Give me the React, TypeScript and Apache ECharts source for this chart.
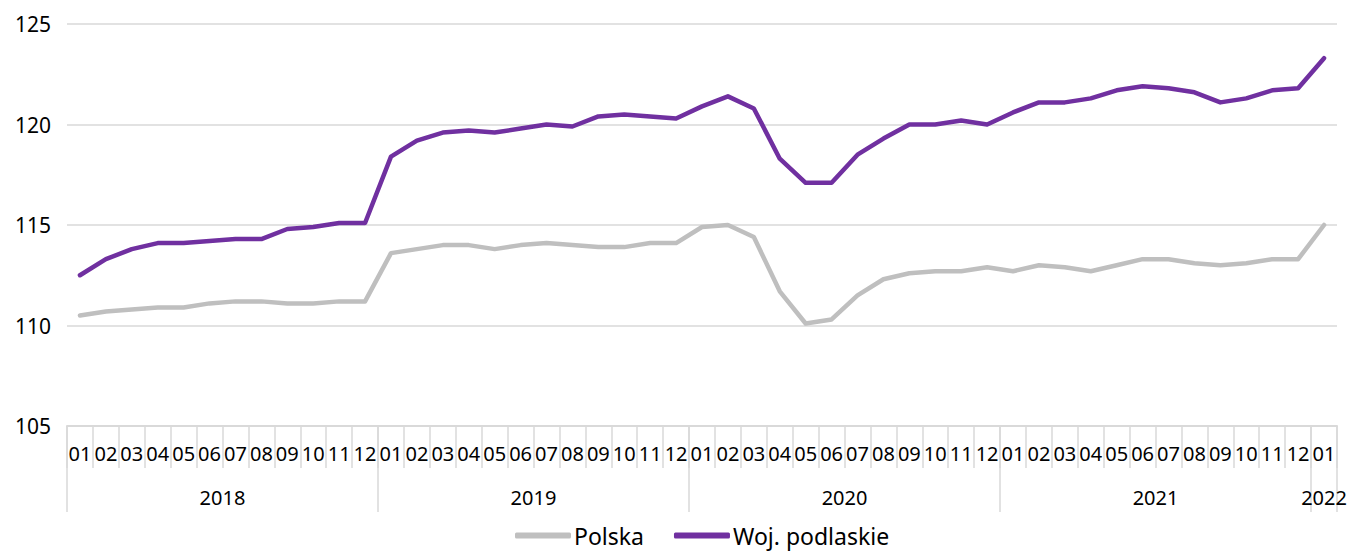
import React, { useEffect, useRef } from "react";
import * as echarts from "echarts";

const years = ["2018", "2019", "2020", "2021"];
const monthCodes = ["01", "02", "03", "04", "05", "06", "07", "08", "09", "10", "11", "12"];
const lastCategory = "2022-01";

const categories: string[] = [
  ...years.flatMap((y) => monthCodes.map((m) => `${y}-${m}`)),
  lastCategory,
];

const polska = [
  110.5, 110.7, 110.8, 110.9, 110.9, 111.1, 111.2, 111.2, 111.1, 111.1, 111.2, 111.2,
  113.6, 113.8, 114.0, 114.0, 113.8, 114.0, 114.1, 114.0, 113.9, 113.9, 114.1, 114.1,
  114.9, 115.0, 114.4, 111.7, 110.1, 110.3, 111.5, 112.3, 112.6, 112.7, 112.7, 112.9,
  112.7, 113.0, 112.9, 112.7, 113.0, 113.3, 113.3, 113.1, 113.0, 113.1, 113.3, 113.3,
  115.0,
];

const podlaskie = [
  112.5, 113.3, 113.8, 114.1, 114.1, 114.2, 114.3, 114.3, 114.8, 114.9, 115.1, 115.1,
  118.4, 119.2, 119.6, 119.7, 119.6, 119.8, 120.0, 119.9, 120.4, 120.5, 120.4, 120.3,
  120.9, 121.4, 120.8, 118.3, 117.1, 117.1, 118.5, 119.3, 120.0, 120.0, 120.2, 120.0,
  120.6, 121.1, 121.1, 121.3, 121.7, 121.9, 121.8, 121.6, 121.1, 121.3, 121.7, 121.8,
  123.3,
];

const yTicks = { min: 105, max: 125, interval: 5 };
const seriesNames = ["Polska", "Woj. podlaskie"];

const FONT = "Noto Sans";
const GRID = "#d9d9d9";

export default function App() {
  const ref = useRef<HTMLDivElement>(null);

  useEffect(() => {
    if (!ref.current) return;
    const chart = echarts.init(ref.current, null, { renderer: "svg" });
    const yearLabelIdx = (i: number) => i === categories.length - 1 || i % 12 === 6;
    chart.setOption({
      animation: false,
      textStyle: { fontFamily: FONT },
      grid: { left: 67, right: 13, top: 24, bottom: 125 },
      legend: {
        top: 519,
        left: 510,
        itemWidth: 56,
        itemHeight: 6,
        itemGap: 30,
        icon: "roundRect",
        textStyle: { fontSize: 23, color: "#000", fontFamily: FONT, padding: [0, 0, 0, -2] },
        data: seriesNames,
      },
      xAxis: [
        {
          type: "category",
          data: categories,
          boundaryGap: true,
          position: "bottom",
          axisLine: { show: true, lineStyle: { color: GRID, width: 2 } },
          axisTick: { show: true, interval: 0, length: 42, lineStyle: { color: GRID, width: 1.5 } },
          axisLabel: {
            interval: 0,
            margin: 17,
            fontSize: 20,
            color: "#000",
            fontFamily: FONT,
            formatter: (v: string) => v.slice(5),
          },
        },
        {
          type: "category",
          data: categories,
          boundaryGap: true,
          position: "bottom",
          axisLine: { show: false },
          axisTick: {
            show: true,
            interval: (i: number) => i % 12 === 0,
            length: 86,
            lineStyle: { color: GRID, width: 1.5 },
          },
          axisLabel: {
            interval: (i: number) => yearLabelIdx(i),
            margin: 61,
            fontSize: 20,
            color: "#000",
            fontFamily: FONT,
            formatter: (v: string) =>
              v === lastCategory ? `{e|${v.slice(0, 4)}}` : `{m|${v.slice(0, 4)}}`,
            rich: {
              m: { fontSize: 20, fontFamily: FONT, color: "#000", padding: [0, 26, 0, 0] },
              e: { fontSize: 20, fontFamily: FONT, color: "#000" },
            },
          },
          splitLine: { show: false },
        },
      ],
      yAxis: {
        type: "value",
        min: yTicks.min,
        max: yTicks.max,
        interval: yTicks.interval,
        axisLine: { show: false },
        axisTick: { show: false },
        axisLabel: { fontSize: 21, color: "#000", margin: 16, fontFamily: FONT },
        splitLine: { lineStyle: { color: GRID, width: 1.5 } },
      },
      series: [
        {
          name: seriesNames[0],
          type: "line",
          data: polska,
          showSymbol: false,
          symbol: "none",
          itemStyle: { color: "#BFBFBF" },
          lineStyle: { color: "#BFBFBF", width: 4.5, cap: "round", join: "round" },
        },
        {
          name: seriesNames[1],
          type: "line",
          data: podlaskie,
          showSymbol: false,
          symbol: "none",
          itemStyle: { color: "#7030A0" },
          lineStyle: { color: "#7030A0", width: 4.5, cap: "round", join: "round" },
        },
      ],
    });
    return () => chart.dispose();
  }, []);

  return (
    <div
      ref={ref}
      style={{ position: "fixed", left: 0, top: 0, width: 1350, height: 551, background: "#fff" }}
    />
  );
}
